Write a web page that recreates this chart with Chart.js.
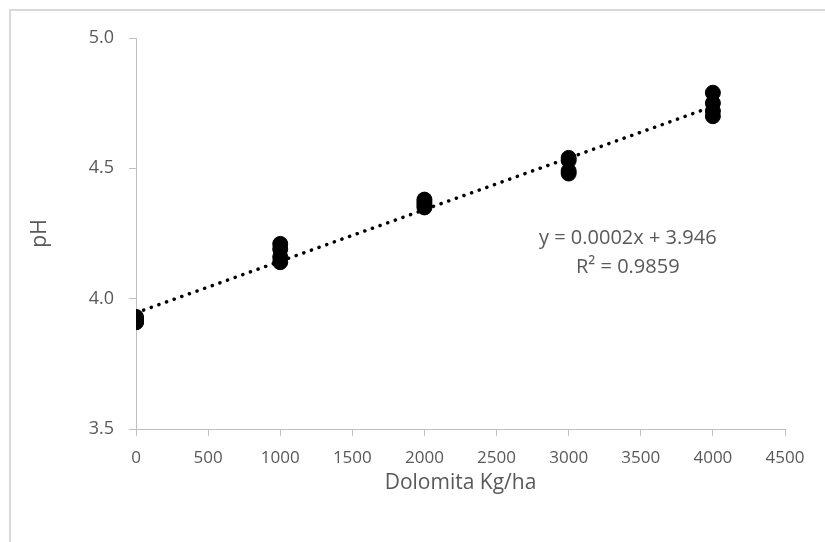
<!DOCTYPE html>
<html>
<head>
<meta charset="utf-8">
<script src="https://cdn.jsdelivr.net/npm/chart.js@4"></script>
<style>
  html, body { margin: 0; padding: 0; background: #ffffff; overflow: hidden; }
  #wrap { width: 825px; height: 542px; }
</style>
</head>
<body>
<div id="wrap"><canvas id="phChart" width="825" height="542"></canvas></div>
<script>
// dolomite dose (kg/ha) and measured pH, one entry per replicate
const doseKgHa = [0, 0, 0, 0, 1000, 1000, 1000, 1000, 2000, 2000, 2000, 2000, 3000, 3000, 3000, 3000, 4000, 4000, 4000, 4000];
const phValues = [3.93, 3.92, 3.91, 3.91, 4.21, 4.19, 4.16, 4.14, 4.38, 4.37, 4.36, 4.35, 4.54, 4.53, 4.49, 4.48, 4.79, 4.75, 4.72, 4.70];

const xTicks = [0, 500, 1000, 1500, 2000, 2500, 3000, 3500, 4000, 4500];
const yTicks = [3.5, 4.0, 4.5, 5.0];

const eqLabel = 'y = 0.0002x + 3.946';
const r2Label = 'R² = 0.9859';

const TEXT_COLOR = '#595959';
const AXIS_COLOR = '#bfbfbf';
const FONT = "'Open Sans', 'DejaVu Sans', sans-serif";

// least squares fit, like the Excel linear trendline
const n = doseKgHa.length;
const mx = doseKgHa.reduce((a, b) => a + b, 0) / n;
const my = phValues.reduce((a, b) => a + b, 0) / n;
let sxy = 0, sxx = 0;
for (let i = 0; i < n; i++) {
    sxy += (doseKgHa[i] - mx) * (phValues[i] - my);
    sxx += (doseKgHa[i] - mx) ** 2;
}
const slope = sxy / sxx;
const intercept = my - slope * mx;
const xMin = Math.min(...doseKgHa), xMax = Math.max(...doseKgHa);
const trendPoints = [
    { x: xMin, y: intercept + slope * xMin },
    { x: xMax, y: intercept + slope * xMax }
];

const points = doseKgHa.map((x, i) => ({ x: x, y: phValues[i] }));

const frameAndLabel = {
    id: 'frameAndLabel',
    beforeDraw(chart) {
        const c = chart.ctx;
        c.save();
        c.strokeStyle = '#d9d9d9';
        c.lineWidth = 2;
        c.strokeRect(10, 10, 900, 700);
        c.restore();
    },
    afterDatasetsDraw(chart) {
        const c = chart.ctx;
        const xs = chart.scales.x, ys = chart.scales.y;
        const px = xs.getPixelForValue(3410);
        const py = ys.getPixelForValue(4.233);
        c.save();
        c.fillStyle = TEXT_COLOR;
        c.font = '20px ' + FONT;
        c.textAlign = 'center';
        c.textBaseline = 'middle';
        c.fillText(eqLabel, px, py);
        c.fillText(r2Label, px, py + 29);
        c.restore();
    }
};

new Chart(document.getElementById('phChart'), {
    type: 'scatter',
    data: {
        datasets: [
            {
                label: 'Tendencia',
                type: 'line',
                data: trendPoints,
                borderColor: '#000000',
                borderWidth: 3.5,
                borderDash: [0.1, 8],
                borderCapStyle: 'round',
                pointRadius: 0,
                fill: false,
                order: 0
            },
            {
                label: 'pH',
                data: points,
                backgroundColor: '#000000',
                borderColor: '#000000',
                borderWidth: 1,
                pointRadius: 7.5,
                pointHoverRadius: 7.5,
                order: 1
            }
        ]
    },
    options: {
        responsive: false,
        animation: false,
        layout: { padding: { top: 38, right: 40, left: 0, bottom: 0 } },
        plugins: {
            legend: { display: false },
            tooltip: { enabled: false }
        },
        scales: {
            x: {
                type: 'linear',
                min: 0,
                max: 4500,
                afterBuildTicks: s => { s.ticks = xTicks.map(v => ({ value: v })); },
                afterFit: s => { s.height = 113; },
                grid: { drawOnChartArea: false, color: AXIS_COLOR, tickLength: 7 },
                border: { color: AXIS_COLOR, width: 1 },
                ticks: {
                    color: TEXT_COLOR,
                    padding: 12,
                    maxRotation: 0,
                    font: { family: FONT, size: 17 },
                    callback: v => String(v)
                },
                title: {
                    display: true,
                    text: 'Dolomita Kg/ha',
                    color: TEXT_COLOR,
                    font: { family: FONT, size: 21 },
                    padding: { top: 0, bottom: 46 }
                }
            },
            y: {
                type: 'linear',
                min: 3.5,
                max: 5.0,
                afterBuildTicks: s => { s.ticks = yTicks.map(v => ({ value: v })); },
                afterFit: s => { s.width = 136; },
                grid: { drawOnChartArea: false, color: AXIS_COLOR, tickLength: 7 },
                border: { color: AXIS_COLOR, width: 1 },
                ticks: {
                    color: TEXT_COLOR,
                    padding: 15,
                    font: { family: FONT, size: 18 },
                    callback: v => v.toFixed(1)
                },
                title: {
                    display: true,
                    text: 'pH',
                    color: TEXT_COLOR,
                    font: { family: FONT, size: 21 },
                    padding: { top: 27, bottom: 0 }
                }
            }
        }
    },
    plugins: [frameAndLabel]
});
</script>
</body>
</html>
